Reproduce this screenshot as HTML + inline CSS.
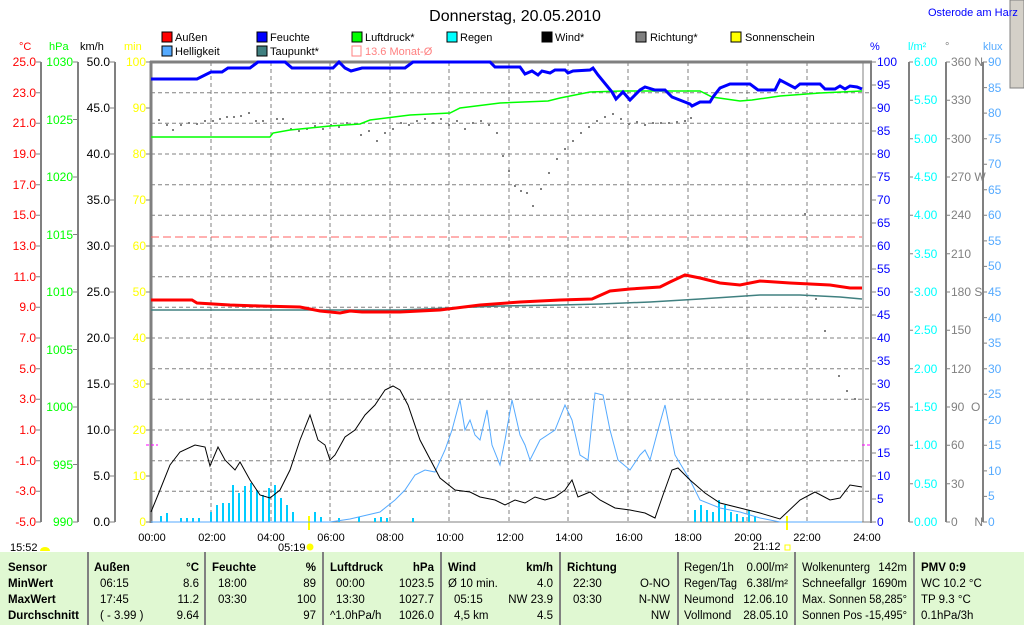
<!DOCTYPE html>
<html><head><meta charset="utf-8"><style>
html,body{margin:0;padding:0;background:#fff;}
svg{display:block;font-family:"Liberation Sans",sans-serif;}
</style></head><body>
<svg width="1024" height="625" viewBox="0 0 1024 625" xmlns="http://www.w3.org/2000/svg">
<rect width="1024" height="625" fill="#fff"/>
<rect x="1010" y="0" width="14" height="88" fill="#d4d0c8" stroke="#808080"/>
<text x="515" y="21" font-size="16" text-anchor="middle">Donnerstag, 20.05.2010</text>
<text x="928" y="16" font-size="11" fill="#0000ff">Osterode am Harz</text>
<g font-size="11">
<rect x="162" y="32" width="10" height="10" fill="#f00" stroke="#000"/><text x="175" y="41">Außen</text>
<rect x="257" y="32" width="10" height="10" fill="#00f" stroke="#000"/><text x="270" y="41">Feuchte</text>
<rect x="352" y="32" width="10" height="10" fill="#0f0" stroke="#000"/><text x="365" y="41">Luftdruck*</text>
<rect x="447" y="32" width="10" height="10" fill="#0ff" stroke="#000"/><text x="460" y="41">Regen</text>
<rect x="542" y="32" width="10" height="10" fill="#000" stroke="#000"/><text x="555" y="41">Wind*</text>
<rect x="636" y="32" width="10" height="10" fill="#808080" stroke="#000"/><text x="650" y="41">Richtung*</text>
<rect x="731" y="32" width="10" height="10" fill="#ff0" stroke="#000"/><text x="745" y="41">Sonnenschein</text>
<rect x="162" y="46" width="10" height="10" fill="#55aaff" stroke="#000"/><text x="175" y="55">Helligkeit</text>
<rect x="257" y="46" width="10" height="10" fill="#408080" stroke="#000"/><text x="270" y="55">Taupunkt*</text>
<rect x="352" y="46" width="9" height="10" fill="none" stroke="#ff8080"/><text x="365" y="55" fill="#ff8080">13.6 Monat-Ø</text>
</g>
<g font-size="11">
<text x="19" y="50" fill="#f00">°C</text>
<text x="49" y="50" fill="#0f0">hPa</text>
<text x="80" y="50" fill="#000">km/h</text>
<text x="124" y="50" fill="#ff0">min</text>
<text x="870" y="50" fill="#00f">%</text>
<text x="908" y="50" fill="#0ff">l/m²</text>
<text x="945" y="50" fill="#808080">°</text>
<text x="983" y="50" fill="#55aaff">klux</text>
</g>
<g stroke="#808080" stroke-dasharray="4,3" stroke-width="1">
<line x1="151" y1="92.7" x2="870" y2="92.7"/><line x1="151" y1="123.3" x2="870" y2="123.3"/>
<line x1="151" y1="154" x2="870" y2="154"/><line x1="151" y1="184.7" x2="870" y2="184.7"/>
<line x1="151" y1="215.3" x2="870" y2="215.3"/><line x1="151" y1="246" x2="870" y2="246"/>
<line x1="151" y1="276.7" x2="870" y2="276.7"/><line x1="151" y1="307.3" x2="870" y2="307.3"/>
<line x1="151" y1="338" x2="870" y2="338"/><line x1="151" y1="368.7" x2="870" y2="368.7"/>
<line x1="151" y1="399.3" x2="870" y2="399.3"/><line x1="151" y1="430" x2="870" y2="430"/>
<line x1="151" y1="460.7" x2="870" y2="460.7"/><line x1="151" y1="491.3" x2="870" y2="491.3"/>
<line x1="211" y1="62" x2="211" y2="522"/><line x1="271" y1="62" x2="271" y2="522"/>
<line x1="330" y1="62" x2="330" y2="522"/><line x1="390" y1="62" x2="390" y2="522"/>
<line x1="449" y1="62" x2="449" y2="522"/><line x1="509" y1="62" x2="509" y2="522"/>
<line x1="568" y1="62" x2="568" y2="522"/><line x1="628" y1="62" x2="628" y2="522"/>
<line x1="688" y1="62" x2="688" y2="522"/><line x1="747" y1="62" x2="747" y2="522"/>
<line x1="807" y1="62" x2="807" y2="522"/>
</g>
<line x1="863" y1="62" x2="863" y2="522" stroke="#808080"/>
<line x1="150" y1="62" x2="872" y2="62" stroke="#808080" stroke-width="3"/>
<line x1="151" y1="61" x2="151" y2="523" stroke="#808080" stroke-width="3"/>
<line x1="871" y1="61" x2="871" y2="523" stroke="#808080" stroke-width="2"/>
<line x1="151" y1="522" x2="871" y2="522" stroke="#808080" stroke-width="1"/>
<g stroke="#808080" stroke-width="2">
<line x1="41" y1="62" x2="41" y2="522"/><line x1="78" y1="62" x2="78" y2="522"/>
<line x1="115" y1="62" x2="115" y2="522"/>
<line x1="909" y1="62" x2="909" y2="522"/><line x1="946" y1="62" x2="946" y2="522"/>
<line x1="983" y1="62" x2="983" y2="522"/>
</g>
<g font-size="12" fill="#f00" text-anchor="end">
<text x="36" y="66">25.0</text><text x="36" y="97">23.0</text><text x="36" y="127">21.0</text><text x="36" y="158">19.0</text><text x="36" y="189">17.0</text><text x="36" y="219">15.0</text><text x="36" y="250">13.0</text><text x="36" y="281">11.0</text><text x="36" y="311">9.0</text><text x="36" y="342">7.0</text><text x="36" y="373">5.0</text><text x="36" y="403">3.0</text><text x="36" y="434">1.0</text><text x="36" y="465">-1.0</text><text x="36" y="495">-3.0</text><text x="36" y="526">-5.0</text>
</g>
<g stroke="#808080">
<path d="M36 62h5M36 92.7h5M36 123.3h5M36 154h5M36 184.7h5M36 215.3h5M36 246h5M36 276.7h5M36 307.3h5M36 338h5M36 368.7h5M36 399.3h5M36 430h5M36 460.7h5M36 491.3h5M36 522h5"/>
<path d="M73 62h5M73 119.5h5M73 177h5M73 234.5h5M73 292h5M73 349.5h5M73 407h5M73 464.5h5M73 522h5"/>
<path d="M110 62h5M110 108h5M110 154h5M110 200h5M110 246h5M110 292h5M110 338h5M110 384h5M110 430h5M110 476h5M110 522h5"/>
<path d="M146 62h5M146 108h5M146 154h5M146 200h5M146 246h5M146 292h5M146 338h5M146 384h5M146 430h5M146 476h5M146 522h5"/>
<path d="M871 62h5M871 85h5M871 108h5M871 131h5M871 154h5M871 177h5M871 200h5M871 223h5M871 246h5M871 269h5M871 292h5M871 315h5M871 338h5M871 361h5M871 384h5M871 407h5M871 430h5M871 453h5M871 476h5M871 499h5M871 522h5"/>
<path d="M909 62h4M909 100.3h4M909 138.7h4M909 177h4M909 215.3h4M909 253.7h4M909 292h4M909 330.3h4M909 368.7h4M909 407h4M909 445.3h4M909 483.7h4M909 522h4"/>
<path d="M946 62h4M946 100.3h4M946 138.7h4M946 177h4M946 215.3h4M946 253.7h4M946 292h4M946 330.3h4M946 368.7h4M946 407h4M946 445.3h4M946 483.7h4M946 522h4"/>
<path d="M983 62h4M983 87.6h4M983 113.1h4M983 138.7h4M983 164.2h4M983 189.8h4M983 215.3h4M983 240.9h4M983 266.4h4M983 292h4M983 317.6h4M983 343.1h4M983 368.7h4M983 394.2h4M983 419.8h4M983 445.3h4M983 470.9h4M983 496.4h4M983 522h4"/>
</g>
<g font-size="12" fill="#0f0" text-anchor="end">
<text x="73" y="66">1030</text><text x="73" y="124">1025</text><text x="73" y="181">1020</text><text x="73" y="239">1015</text><text x="73" y="296">1010</text><text x="73" y="354">1005</text><text x="73" y="411">1000</text><text x="73" y="469">995</text><text x="73" y="526">990</text>
</g>
<g font-size="12" fill="#000" text-anchor="end">
<text x="110" y="66">50.0</text><text x="110" y="112">45.0</text><text x="110" y="158">40.0</text><text x="110" y="204">35.0</text><text x="110" y="250">30.0</text><text x="110" y="296">25.0</text><text x="110" y="342">20.0</text><text x="110" y="388">15.0</text><text x="110" y="434">10.0</text><text x="110" y="480">5.0</text><text x="110" y="526">0.0</text>
</g>
<g font-size="12" fill="#ff0" text-anchor="end">
<text x="146" y="66">100</text><text x="146" y="112">90</text><text x="146" y="158">80</text><text x="146" y="204">70</text><text x="146" y="250">60</text><text x="146" y="296">50</text><text x="146" y="342">40</text><text x="146" y="388">30</text><text x="146" y="434">20</text><text x="146" y="480">10</text><text x="146" y="526">0</text>
</g>
<g font-size="12" fill="#00f">
<text x="877" y="66">100</text><text x="877" y="89">95</text><text x="877" y="112">90</text><text x="877" y="135">85</text><text x="877" y="158">80</text><text x="877" y="181">75</text><text x="877" y="204">70</text><text x="877" y="227">65</text><text x="877" y="250">60</text><text x="877" y="273">55</text><text x="877" y="296">50</text><text x="877" y="319">45</text><text x="877" y="342">40</text><text x="877" y="365">35</text><text x="877" y="388">30</text><text x="877" y="411">25</text><text x="877" y="434">20</text><text x="877" y="457">15</text><text x="877" y="480">10</text><text x="877" y="503">5</text><text x="877" y="526">0</text>
</g>
<g font-size="12" fill="#0ff">
<text x="914" y="66">6.00</text><text x="914" y="104">5.50</text><text x="914" y="143">5.00</text><text x="914" y="181">4.50</text><text x="914" y="219">4.00</text><text x="914" y="258">3.50</text><text x="914" y="296">3.00</text><text x="914" y="334">2.50</text><text x="914" y="373">2.00</text><text x="914" y="411">1.50</text><text x="914" y="449">1.00</text><text x="914" y="488">0.50</text><text x="914" y="526">0.00</text>
</g>
<g font-size="12" fill="#808080">
<text x="951" y="66">360 N</text><text x="951" y="104">330</text><text x="951" y="143">300</text><text x="951" y="181">270 W</text><text x="951" y="219">240</text><text x="951" y="258">210</text><text x="951" y="296">180 S</text><text x="951" y="334">150</text><text x="951" y="373">120</text><text x="951" y="411">90&#160;&#160;O</text><text x="951" y="449">60</text><text x="951" y="488">30</text><text x="951" y="526">0&#160;&#160;&#160;&#160;&#160;N</text>
</g>
<g font-size="12" fill="#55aaff">
<text x="988" y="66">90</text><text x="988" y="92">85</text><text x="988" y="117">80</text><text x="988" y="143">75</text><text x="988" y="168">70</text><text x="988" y="194">65</text><text x="988" y="219">60</text><text x="988" y="245">55</text><text x="988" y="270">50</text><text x="988" y="296">45</text><text x="988" y="322">40</text><text x="988" y="347">35</text><text x="988" y="373">30</text><text x="988" y="398">25</text><text x="988" y="424">20</text><text x="988" y="449">15</text><text x="988" y="475">10</text><text x="988" y="500">5</text><text x="988" y="526">0</text>
</g>
<g font-size="11" text-anchor="middle">
<text x="152" y="541">00:00</text><text x="212" y="541">02:00</text><text x="271" y="541">04:00</text><text x="331" y="541">06:00</text><text x="390" y="541">08:00</text><text x="450" y="541">10:00</text><text x="510" y="541">12:00</text><text x="569" y="541">14:00</text><text x="629" y="541">16:00</text><text x="688" y="541">18:00</text><text x="748" y="541">20:00</text><text x="807" y="541">22:00</text><text x="867" y="541">24:00</text>
</g>
<text x="10" y="551" font-size="11">15:52</text><path d="M40 551a5 4 0 0 1 10 0z" fill="#ff0"/>
<text x="278" y="551" font-size="11">05:19</text><circle cx="310" cy="547" r="3.5" fill="#ff0"/>
<text x="753" y="550" font-size="11">21:12</text><rect x="785" y="545" width="5" height="5" fill="none" stroke="#ff0"/>
<line x1="309" y1="516" x2="309" y2="530" stroke="#ff0" stroke-width="2"/>
<line x1="787" y1="516" x2="787" y2="530" stroke="#ff0" stroke-width="2"/>
<line x1="151" y1="237" x2="862" y2="237" stroke="#ff6060" stroke-dasharray="8,4"/>
<path d="M146 445h12M862 445h10" stroke="#ff00ff" stroke-dasharray="3,2"/>
<g fill="#00ccff">
<rect x="160" y="516" width="2" height="6"/><rect x="166" y="513" width="2" height="9"/><rect x="180" y="518" width="2" height="4"/><rect x="186" y="518" width="2" height="4"/><rect x="192" y="518" width="2" height="4"/><rect x="198" y="518" width="2" height="4"/><rect x="210" y="512" width="2" height="10"/><rect x="216" y="505" width="2" height="17"/><rect x="222" y="503" width="2" height="19"/><rect x="228" y="503" width="2" height="19"/><rect x="232" y="485" width="2" height="37"/><rect x="238" y="493" width="2" height="29"/><rect x="244" y="486" width="2" height="36"/><rect x="250" y="483" width="2" height="39"/><rect x="256" y="490" width="2" height="32"/><rect x="262" y="495" width="2" height="27"/><rect x="268" y="488" width="2" height="34"/><rect x="274" y="485" width="2" height="37"/><rect x="280" y="498" width="2" height="24"/><rect x="286" y="505" width="2" height="17"/><rect x="292" y="512" width="2" height="10"/><rect x="314" y="512" width="2" height="10"/><rect x="320" y="517" width="2" height="5"/><rect x="338" y="518" width="2" height="4"/><rect x="358" y="517" width="2" height="5"/><rect x="374" y="518" width="2" height="4"/><rect x="380" y="517" width="2" height="5"/><rect x="386" y="518" width="2" height="4"/><rect x="412" y="518" width="2" height="4"/>
<rect x="694" y="510" width="2" height="12"/><rect x="700" y="505" width="2" height="17"/><rect x="706" y="510" width="2" height="12"/><rect x="712" y="512" width="2" height="10"/><rect x="718" y="500" width="2" height="22"/><rect x="724" y="505" width="2" height="17"/><rect x="730" y="512" width="2" height="10"/><rect x="736" y="514" width="2" height="8"/><rect x="742" y="517" width="2" height="5"/><rect x="748" y="510" width="2" height="12"/><rect x="754" y="516" width="2" height="6"/>
</g>
<g fill="#808080">
<rect x="158" y="119" width="2" height="2"/><rect x="166" y="124" width="2" height="2"/><rect x="172" y="129" width="2" height="2"/><rect x="180" y="124" width="2" height="2"/><rect x="188" y="122" width="2" height="2"/><rect x="196" y="123" width="2" height="2"/><rect x="204" y="120" width="2" height="2"/><rect x="212" y="120" width="2" height="2"/><rect x="219" y="118" width="2" height="2"/><rect x="226" y="116" width="2" height="2"/><rect x="233" y="116" width="2" height="2"/><rect x="240" y="115" width="2" height="2"/><rect x="248" y="112" width="2" height="2"/><rect x="255" y="120" width="2" height="2"/><rect x="262" y="120" width="2" height="2"/><rect x="276" y="118" width="2" height="2"/><rect x="282" y="118" width="2" height="2"/><rect x="290" y="128" width="2" height="2"/><rect x="298" y="130" width="2" height="2"/><rect x="306" y="128" width="2" height="2"/><rect x="314" y="125" width="2" height="2"/><rect x="322" y="128" width="2" height="2"/><rect x="330" y="124" width="2" height="2"/><rect x="338" y="126" width="2" height="2"/><rect x="346" y="122" width="2" height="2"/><rect x="354" y="123" width="2" height="2"/><rect x="360" y="134" width="2" height="2"/><rect x="368" y="130" width="2" height="2"/><rect x="376" y="140" width="2" height="2"/><rect x="384" y="132" width="2" height="2"/><rect x="392" y="128" width="2" height="2"/><rect x="400" y="122" width="2" height="2"/><rect x="408" y="124" width="2" height="2"/><rect x="416" y="120" width="2" height="2"/><rect x="424" y="118" width="2" height="2"/><rect x="432" y="122" width="2" height="2"/><rect x="440" y="118" width="2" height="2"/><rect x="448" y="124" width="2" height="2"/><rect x="456" y="120" width="2" height="2"/><rect x="464" y="128" width="2" height="2"/><rect x="472" y="122" width="2" height="2"/><rect x="480" y="120" width="2" height="2"/><rect x="488" y="124" width="2" height="2"/><rect x="496" y="132" width="2" height="2"/><rect x="502" y="155" width="2" height="2"/><rect x="508" y="170" width="2" height="2"/><rect x="514" y="185" width="2" height="2"/><rect x="520" y="190" width="2" height="2"/><rect x="526" y="192" width="2" height="2"/><rect x="532" y="205" width="2" height="2"/><rect x="540" y="188" width="2" height="2"/><rect x="548" y="172" width="2" height="2"/><rect x="556" y="158" width="2" height="2"/><rect x="564" y="148" width="2" height="2"/><rect x="572" y="140" width="2" height="2"/><rect x="580" y="132" width="2" height="2"/><rect x="588" y="126" width="2" height="2"/><rect x="596" y="120" width="2" height="2"/><rect x="604" y="116" width="2" height="2"/><rect x="612" y="113" width="2" height="2"/><rect x="620" y="118" width="2" height="2"/><rect x="628" y="123" width="2" height="2"/><rect x="636" y="121" width="2" height="2"/><rect x="644" y="124" width="2" height="2"/><rect x="652" y="122" width="2" height="2"/><rect x="660" y="122" width="2" height="2"/><rect x="668" y="122" width="2" height="2"/><rect x="676" y="121" width="2" height="2"/><rect x="684" y="120" width="2" height="2"/><rect x="690" y="117" width="2" height="2"/>
<rect x="804" y="213" width="2" height="2"/><rect x="815" y="298" width="2" height="2"/><rect x="824" y="330" width="2" height="2"/><rect x="838" y="375" width="2" height="2"/><rect x="846" y="390" width="2" height="2"/><rect x="854" y="398" width="2" height="2"/>
</g>
<polyline fill="none" stroke="#55aaff" stroke-width="1" points="151,522 330,522 350,519 380,512 395,500 405,490 415,475 425,470 435,472 445,450 452,430 460,400 465,430 470,420 475,435 480,440 487,410 492,445 500,465 505,440 512,400 520,435 525,445 530,460 540,440 555,430 565,405 572,420 580,455 588,460 595,393 603,395 610,430 618,460 630,470 640,455 645,450 650,460 658,430 665,405 670,430 675,455 690,480 700,500 720,508 740,512 760,518 780,522 862,522"/>
<polyline fill="none" stroke="#000" stroke-width="1" points="151,512 160,490 170,465 180,452 195,445 205,447 210,466 218,447 225,460 235,470 240,462 250,480 260,495 270,498 280,490 290,470 300,440 310,415 318,440 325,445 330,460 335,455 345,437 355,430 365,415 375,405 385,390 393,386 400,390 408,405 420,440 440,478 455,490 470,492 480,497 495,500 505,505 515,500 525,503 535,497 545,500 555,497 565,490 572,480 578,497 590,492 600,500 615,508 630,510 645,513 655,518 663,495 672,470 678,468 690,480 705,493 720,503 740,508 760,513 780,519 800,500 815,492 830,500 840,498 850,485 862,487"/>
<polyline fill="none" stroke="#408080" stroke-width="1.5" points="151,310 250,310 330,310 400,310 450,308 500,306 560,305 600,304 650,302 700,299 760,295 800,295 840,297 862,299"/>
<polyline fill="none" stroke="#f00" stroke-width="3" points="151,300 192,300 197,303 230,305 260,306 300,307 320,311 340,313 350,311 362,312 400,312 440,310 480,305 520,302 560,300 592,299 610,291 630,289 660,287 670,282 685,275 700,278 720,283 740,285 760,281 790,283 830,285 850,288 862,288"/>
<polyline fill="none" stroke="#0f0" stroke-width="1.5" points="151,137 270,137 273,133 290,130 330,126 360,124 370,120 410,115 450,113 460,108 500,103 548,101 560,98 590,92 622,91 700,91 712,97 740,101 752,100 780,96 820,93 862,91"/>
<polyline fill="none" stroke="#00f" stroke-width="3" points="151,79 197,79 211,72 222,72 228,68 250,68 258,62 285,62 292,68 333,68 339,62 345,68 351,71 362,68 405,68 413,62 490,62 495,67 520,67 525,74 532,71 538,75 542,71 550,73 555,70 565,70 568,73 573,71 590,70 593,68 598,75 612,92 616,99 623,92 630,100 640,90 645,87 655,90 665,90 672,97 690,104 692,106 700,102 710,102 713,97 720,88 730,84 750,84 758,90 775,90 780,80 795,88 800,84 820,84 825,89 835,89 840,86 845,89 850,86 857,87 862,89"/>
<rect x="0" y="552" width="1024" height="73" fill="#e0f8d2"/>
<g stroke="#808080" stroke-width="2">
<line x1="88" y1="552" x2="88" y2="625"/><line x1="205" y1="552" x2="205" y2="625"/><line x1="323" y1="552" x2="323" y2="625"/><line x1="441" y1="552" x2="441" y2="625"/><line x1="560" y1="552" x2="560" y2="625"/><line x1="678" y1="552" x2="678" y2="625"/><line x1="795" y1="552" x2="795" y2="625"/><line x1="914" y1="552" x2="914" y2="625"/>
</g>
<g font-size="11.5">
<g font-weight="bold"><text x="8" y="571">Sensor</text><text x="8" y="587">MinWert</text><text x="8" y="603">MaxWert</text><text x="8" y="619">Durchschnitt</text>
<text x="94" y="571">Außen</text><text x="199" y="571" text-anchor="end">°C</text>
<text x="212" y="571">Feuchte</text><text x="316" y="571" text-anchor="end">%</text>
<text x="330" y="571">Luftdruck</text><text x="434" y="571" text-anchor="end">hPa</text>
<text x="448" y="571">Wind</text><text x="553" y="571" text-anchor="end">km/h</text>
<text x="567" y="571">Richtung</text><text x="921" y="571">PMV 0:9</text></g>
<text x="100" y="587">06:15</text><text x="199" y="587" text-anchor="end">8.6</text>
<text x="100" y="603">17:45</text><text x="199" y="603" text-anchor="end">11.2</text>
<text x="100" y="619">( - 3.99 )</text><text x="199" y="619" text-anchor="end">9.64</text>
<text x="218" y="587">18:00</text><text x="316" y="587" text-anchor="end">89</text>
<text x="218" y="603">03:30</text><text x="316" y="603" text-anchor="end">100</text>
<text x="316" y="619" text-anchor="end">97</text>
<text x="336" y="587">00:00</text><text x="434" y="587" text-anchor="end">1023.5</text>
<text x="336" y="603">13:30</text><text x="434" y="603" text-anchor="end">1027.7</text>
<text x="330" y="619">^1.0hPa/h</text><text x="434" y="619" text-anchor="end">1026.0</text>
<text x="448" y="587">Ø 10 min.</text><text x="553" y="587" text-anchor="end">4.0</text>
<text x="454" y="603">05:15</text><text x="553" y="603" text-anchor="end">NW 23.9</text>
<text x="454" y="619">4,5 km</text><text x="553" y="619" text-anchor="end">4.5</text>
<text x="573" y="587">22:30</text><text x="670" y="587" text-anchor="end">O-NO</text>
<text x="573" y="603">03:30</text><text x="670" y="603" text-anchor="end">N-NW</text>
<text x="670" y="619" text-anchor="end">NW</text>
<text x="684" y="571">Regen/1h</text><text x="788" y="571" text-anchor="end">0.00l/m²</text>
<text x="684" y="587" textLength="53" lengthAdjust="spacingAndGlyphs">Regen/Tag</text><text x="788" y="587" text-anchor="end">6.38l/m²</text>
<text x="684" y="603">Neumond</text><text x="788" y="603" text-anchor="end">12.06.10</text>
<text x="684" y="619">Vollmond</text><text x="788" y="619" text-anchor="end">28.05.10</text>
<text x="802" y="571" textLength="68" lengthAdjust="spacingAndGlyphs">Wolkenunterg</text><text x="907" y="571" text-anchor="end">142m</text>
<text x="802" y="587">Schneefallgr</text><text x="907" y="587" text-anchor="end">1690m</text>
<text x="802" y="603" textLength="105" lengthAdjust="spacingAndGlyphs">Max. Sonnen 58,285°</text>
<text x="802" y="619" textLength="105" lengthAdjust="spacingAndGlyphs">Sonnen Pos -15,495°</text>
<text x="921" y="587">WC 10.2 °C</text><text x="921" y="603">TP 9.3 °C</text><text x="921" y="619">0.1hPa/3h</text>
</g>
</svg>
</body></html>
